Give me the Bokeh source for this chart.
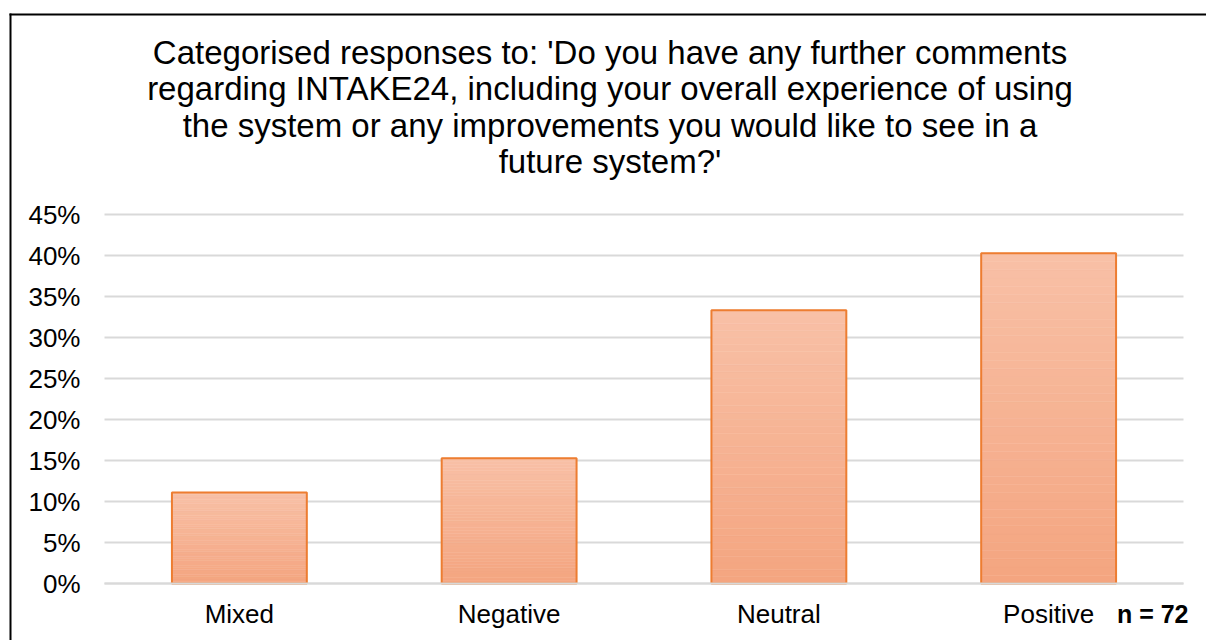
import numpy as np
from bokeh.plotting import figure
from bokeh.models import (Range1d, FixedTicker, NumeralTickFormatter,
                          LinearAxis, ColumnDataSource)
from bokeh.core.properties import value
from bokeh.embed import file_html
from bokeh.resources import INLINE

# ---- data ----
categories = ["Mixed", "Negative", "Neutral", "Positive"]
counts = [8, 11, 24, 29]
n_total = 72
y_ticks = [0.0, 0.05, 0.10, 0.15, 0.20, 0.25, 0.30, 0.35, 0.40, 0.45]
title_lines = [
    "Categorised responses to: 'Do you have any further comments",
    "regarding INTAKE24, including your overall experience of using",
    "the system or any improvements you would like to see in a",
    "future system?'",
]

values = [c / n_total for c in counts]
positions = [i + 0.5 for i in range(len(categories))]

# ---- layout (pixels) ----
W, H = 1206, 640
PLOT_L, PLOT_R, ZERO_Y = 104, 1183, 583
PX_X = (PLOT_R - PLOT_L) / len(categories)   # px per category slot
PX_Y = 820.0                                 # px per 100%


def px_x(px):
    return (px - PLOT_L) / PX_X


def px_y(py):
    return (ZERO_Y - py) / PX_Y


FONT = "Liberation Sans"

p = figure(
    x_range=Range1d(px_x(0), px_x(W)),
    y_range=Range1d(px_y(H), px_y(0)),
    width=W, height=H,
    output_backend="svg", toolbar_location=None,
    x_axis_location=None, y_axis_location=None,
    min_border=0,
)
p.outline_line_color = None
p.background_fill_color = "white"
p.border_fill_color = "white"
p.xgrid.visible = False
p.ygrid.visible = False

# chart-area border (left and top edges visible)
p.segment(x0=[px_x(10), px_x(9)], y0=[px_y(13), px_y(14)],
          x1=[px_x(10), px_x(W + 5)], y1=[px_y(H + 5), px_y(14)],
          line_color="#000000", line_width=2)

# horizontal gridlines at the value ticks
p.segment(x0=[0] * len(y_ticks), x1=[len(categories)] * len(y_ticks),
          y0=y_ticks, y1=y_ticks, line_color="#D9D9D9", line_width=2)

# title lines, each centred
tsrc = ColumnDataSource(dict(
    x=[len(categories) / 2] * len(title_lines),
    y=[px_y(0)] * len(title_lines),
    text=title_lines,
    yo=[52 + 36.3 * i for i in range(len(title_lines))],
))
p.text(x="x", y="y", text="text", source=tsrc, x_offset=-34, y_offset="yo",
       text_font=value(FONT), text_font_size="33px", text_color="#000000",
       text_align="center", text_baseline="middle")

# gradient bars (lighter at top, darker at bottom), built from the values
top_rgb = np.array([248, 192, 166])
bot_rgb = np.array([244, 165, 128])
N = 40
xs, bots, tops, cols = [], [], [], []
for xpos, v in zip(positions, values):
    for i in range(N):
        f = (i + 0.5) / N
        rgb = bot_rgb + (top_rgb - bot_rgb) * f
        xs.append(xpos)
        bots.append(v * i / N)
        tops.append(v * (i + 1) / N)
        cols.append("#%02x%02x%02x" % tuple(int(round(c)) for c in rgb))
src = ColumnDataSource(dict(x=xs, bottom=bots, top=tops, color=cols))
p.vbar(x="x", bottom="bottom", top="top", width=0.5, source=src,
       fill_color="color", line_color="color", line_width=0.5)
p.vbar(x=positions, top=values, width=0.5, fill_alpha=0,
       line_color="#ED7D31", line_width=2)

# value axis
yaxis = LinearAxis(fixed_location=0, ticker=FixedTicker(ticks=y_ticks),
                   formatter=NumeralTickFormatter(format="0%"))
yaxis.axis_line_color = None
yaxis.major_tick_line_color = None
yaxis.minor_tick_line_color = None
yaxis.major_tick_out = 0
yaxis.major_tick_in = 0
yaxis.major_label_standoff = 24
yaxis.major_label_text_font = FONT
yaxis.major_label_text_font_size = "26px"
yaxis.major_label_text_color = "#000000"
p.add_layout(yaxis, "left")

# category axis on the 0 line
xaxis = LinearAxis(fixed_location=0, ticker=FixedTicker(ticks=positions),
                   major_label_overrides={x: c for x, c in zip(positions, categories)},
                   bounds=(0, len(categories)))
xaxis.axis_line_color = "#D9D9D9"
xaxis.axis_line_width = 2
xaxis.major_tick_line_color = None
xaxis.minor_tick_line_color = None
xaxis.major_tick_out = 0
xaxis.major_tick_in = 0
xaxis.major_label_standoff = 15
xaxis.major_label_text_font = FONT
xaxis.major_label_text_font_size = "26px"
xaxis.major_label_text_color = "#000000"
p.add_layout(xaxis, "below")

# sample size note
p.text(x=[len(categories)], y=[0], text=["n = %d" % n_total], x_offset=5, y_offset=30,
       text_font=value(FONT), text_font_size="25px", text_font_style="bold",
       text_color="#000000", text_align="right", text_baseline="middle")

open("out.html", "w").write(file_html(p, INLINE))
